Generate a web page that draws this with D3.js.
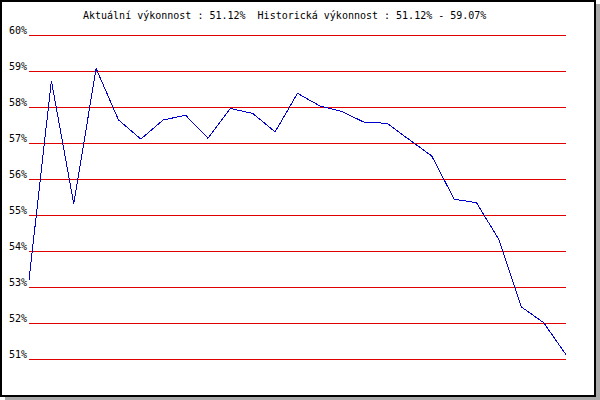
<!DOCTYPE html>
<html>
<head>
<meta charset="utf-8">
<script src="https://cdn.jsdelivr.net/npm/d3@7"></script>
<style>
  html, body { margin: 0; padding: 0; background: #fff; }
  svg { display: block; }
  text { font-family: "DejaVu Sans Mono", "Liberation Mono", monospace; font-size: 10px; fill: #000; white-space: pre; }
</style>
</head>
<body>
<svg id="chart" width="600" height="400"></svg>
<script>
// Data
const points = d3.range(1, 26);
const values = [53.19, 58.73, 55.31, 59.07, 57.64, 57.11, 57.64, 57.77, 57.13, 57.96,
                57.82, 57.31, 58.38, 58.03, 57.87, 57.57, 57.55, 57.09, 56.64, 55.44,
                55.34, 54.32, 52.45, 52.01, 51.12];
const yTicks = [51, 52, 53, 54, 55, 56, 57, 58, 59, 60];
const title = "Aktuální výkonnost : 51.12%  Historická výkonnost : 51.12% - 59.07%";

const svg = d3.select("#chart");

// shadow + frame
svg.append("rect").attr("x", 5).attr("y", 4).attr("width", 595).attr("height", 396)
  .attr("fill", "#a9a9a9");
svg.append("rect").attr("x", 1).attr("y", 1).attr("width", 594).attr("height", 395)
  .attr("fill", "#fff").attr("stroke", "#000").attr("stroke-width", 2);

const x = d3.scaleLinear().domain([1, 25]).range([29, 566]);
const y = d3.scaleLinear().domain([51, 60]).range([359, 35]);

// title
svg.append("text").attr("x", 83).attr("y", 19).attr("xml:space", "preserve").text(title);

// grid lines + labels via axis
const axis = d3.axisLeft(y).tickValues(yTicks).tickSize(-(566 - 29)).tickPadding(3)
  .tickFormat(d => d + "%");
const g = svg.append("g").attr("transform", "translate(29,0)").call(axis);
g.select(".domain").remove();
g.selectAll(".tick line").attr("stroke", "#e00000").attr("stroke-width", 1)
  .attr("shape-rendering", "crispEdges");
g.selectAll(".tick text")
  .attr("x", -2).attr("dy", null).attr("y", -2)
  .attr("text-anchor", "end")
  .style("font-family", '"DejaVu Sans Mono", "Liberation Mono", monospace')
  .style("font-size", "10px").attr("fill", "#000");

// data line
const line = d3.line().x((d, i) => x(points[i])).y(d => y(d));
svg.append("path").datum(values)
  .attr("d", line)
  .attr("fill", "none").attr("stroke", "#0000cc").attr("stroke-width", 1)
  .attr("shape-rendering", "crispEdges");
</script>
</body>
</html>
